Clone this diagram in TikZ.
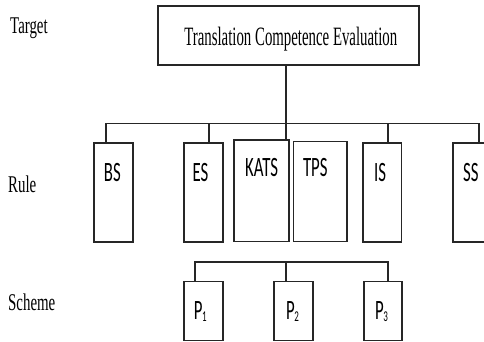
\documentclass[tikz,border=0pt]{standalone}
\usepackage{fontspec}
\newfontfamily\serifc[FakeStretch=0.62]{Liberation Serif}
\newfontfamily\serift[FakeStretch=0.56]{Liberation Serif}
\newfontfamily\sansc[FakeStretch=0.6]{Carlito}
\begin{document}
\begin{tikzpicture}[x=1pt,y=-1pt,
  box/.style={draw=black!85,line width=1.6pt,rectangle,inner sep=0pt,anchor=north west},
  wire/.style={draw=black!85,line width=1.6pt},
  lab/.style={inner sep=0pt,anchor=base west,font=\serifc\fontsize{24}{24}\selectfont},
  btxt/.style={inner sep=0pt,anchor=base,font=\sansc\fontsize{28}{28}\selectfont}]
\useasboundingbox (0,0) rectangle (484,342);
\clip (0,0) rectangle (484,342);
% level labels
\node[lab] (tg) at (10,34) {Target};
\node[lab] (rl) at (8,192) {Rule};
\node[lab] (sc) at (8,310) {Scheme};
% top
\node[box,minimum width=261pt,minimum height=59pt] (top) at (157.3,5) {};
\node[inner sep=0pt,anchor=base,font=\serift\fontsize{26.5}{26.5}\selectfont] (topT) at (290.8,45.7) {Translation Competence Evaluation};
% rule boxes
\node[box,minimum width=39pt,minimum height=99pt] (bs) at (93,142) {};
\node[box,minimum width=39pt,minimum height=99pt] (es) at (183,142) {};
\node[box,minimum width=55pt,minimum height=101.5pt] (kats) at (233,139) {};
\node[box,minimum width=53.3pt,minimum height=100pt] (tps) at (292.7,140.7) {};
\node[box,minimum width=38.7pt,minimum height=99pt] (is) at (362,142) {};
\node[box,minimum width=40pt,minimum height=99pt] (ss) at (452.3,142) {};
\node[btxt] (bsT) at (112.3,181.7) {BS};
\node[btxt] (esT) at (200.5,181.7) {ES};
\node[btxt] (katsT) at (261.7,176.7) {KATS};
\node[btxt] (tpsT) at (315.3,176.7) {TPS};
\node[btxt] (isT) at (380,181.7) {IS};
\node[btxt] (ssT) at (470.8,181.7) {SS};
% scheme boxes
\node[box,minimum width=39pt,minimum height=59pt] (p1) at (183,280.7) {};
\node[box,minimum width=39pt,minimum height=59pt] (p2) at (273,280.7) {};
\node[box,minimum width=38pt,minimum height=59pt] (p3) at (363,280.7) {};
\node[btxt] (p1T) at (200.3,319) {P\kern-0.5pt\raisebox{-2.5pt}{\fontsize{15}{15}\selectfont 1}};
\node[btxt] (p2T) at (292.5,319) {P\kern-0.5pt\raisebox{-2.5pt}{\fontsize{15}{15}\selectfont 2}};
\node[btxt] (p3T) at (381.5,319) {P\kern-0.5pt\raisebox{-2.5pt}{\fontsize{15}{15}\selectfont 3}};
% rule bus
\coordinate (b1) at (106,123.3);
\coordinate (b2) at (209,123.3);
\coordinate (b5) at (388,123.3);
\coordinate (b6) at (479,123.3);
\coordinate (stem) at (285.7,0);
\draw[wire] (stem |- top.south) -- (stem |- kats.north);
\draw[wire] (b1) -- (b6);
\draw[wire] (b1) -- (b1 |- bs.north);
\draw[wire] (b2) -- (b2 |- es.north);
\draw[wire] (b5) -- (b5 |- is.north);
\draw[wire] (b6) -- (b6 |- ss.north);
% scheme bus
\coordinate (s1) at (195,261.7);
\coordinate (s2) at (285.7,261.7);
\coordinate (s3) at (388,261.7);
\draw[wire] (s1 |- p1.north) -- (s1) -- (s3) -- (s3 |- p3.north);
\draw[wire] (s2) -- (s2 |- p2.north);
\end{tikzpicture}
\end{document}
